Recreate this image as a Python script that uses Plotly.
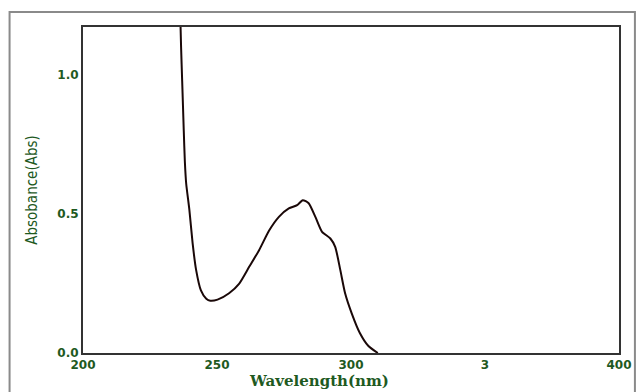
import plotly.graph_objects as go

wavelength = [236.2, 236.6, 237.0, 237.6, 238.0, 238.5, 239.7, 240.9, 242.2, 244.0, 246.0, 247.5,
              250.2, 254.5, 258.3, 262.0, 265.7, 269.4, 273.1, 276.8, 279.9, 282.0,
              284.2, 286.7, 289.2, 292.3, 294.1, 296.0, 297.8, 300.3, 303.3, 306.5, 310.0]
absorbance = [1.25, 1.10, 0.98, 0.80, 0.69, 0.61, 0.514, 0.395, 0.299, 0.225, 0.195, 0.188,
              0.192, 0.215, 0.25, 0.31, 0.37, 0.44, 0.49, 0.52, 0.532, 0.55,
              0.539, 0.49, 0.436, 0.412, 0.382, 0.299, 0.215, 0.142, 0.072, 0.025, 0.0]

x_tickvals = [200, 250, 300, 350, 400]
x_ticktext = ["200", "250", "300", "3", "400"]
y_tickvals = [0.0, 0.5, 1.0]
y_ticktext = ["0.0", "0.5", "1.0"]

green = "#1f5a1f"

fig = go.Figure()
fig.add_trace(go.Scatter(x=wavelength, y=absorbance, mode="lines",
                         line=dict(color="#1a0808", width=2, shape="spline", smoothing=0.6),
                         showlegend=False, hoverinfo="skip"))

# page body has an 8px margin, so the figure is shifted by 8px
fig.update_layout(
    width=636, height=384,
    margin=dict(l=75, r=22, t=19, b=39),
    paper_bgcolor="white", plot_bgcolor="white",
    xaxis=dict(range=[200, 400], tickvals=x_tickvals, ticktext=x_ticktext,
               showgrid=False, zeroline=False, showline=True, mirror=True,
               linecolor="#333333", linewidth=2, ticks="", ticklen=0,
               tickfont=dict(family="DejaVu Sans", size=12, color=green, weight="bold")),
    yaxis=dict(range=[0, 1.173], tickvals=y_tickvals, ticktext=y_ticktext,
               showgrid=False, zeroline=False, showline=True, mirror=True,
               linecolor="#333333", linewidth=2, ticks="", ticklen=0,
               tickfont=dict(family="DejaVu Sans", size=12, color=green, weight="bold"),
               title=dict(text="Absobance(Abs)", standoff=16,
                          font=dict(family="DejaVu Sans Condensed", size=15, color=green))),
)

fig.add_annotation(text="Wavelength(nm)", xref="paper", yref="paper",
                   x=0.44, y=-0.086, xanchor="center", yanchor="middle", showarrow=False,
                   font=dict(family="DejaVu Serif", size=15, color=green, weight="bold"))

fig.add_shape(type="rect", xref="paper", yref="paper",
              x0=-0.137, x1=1.0297, y0=-0.2, y1=1.046,
              line=dict(color="#8a8a8a", width=2), fillcolor="rgba(0,0,0,0)", layer="below")

fig.write_html("out.html")
